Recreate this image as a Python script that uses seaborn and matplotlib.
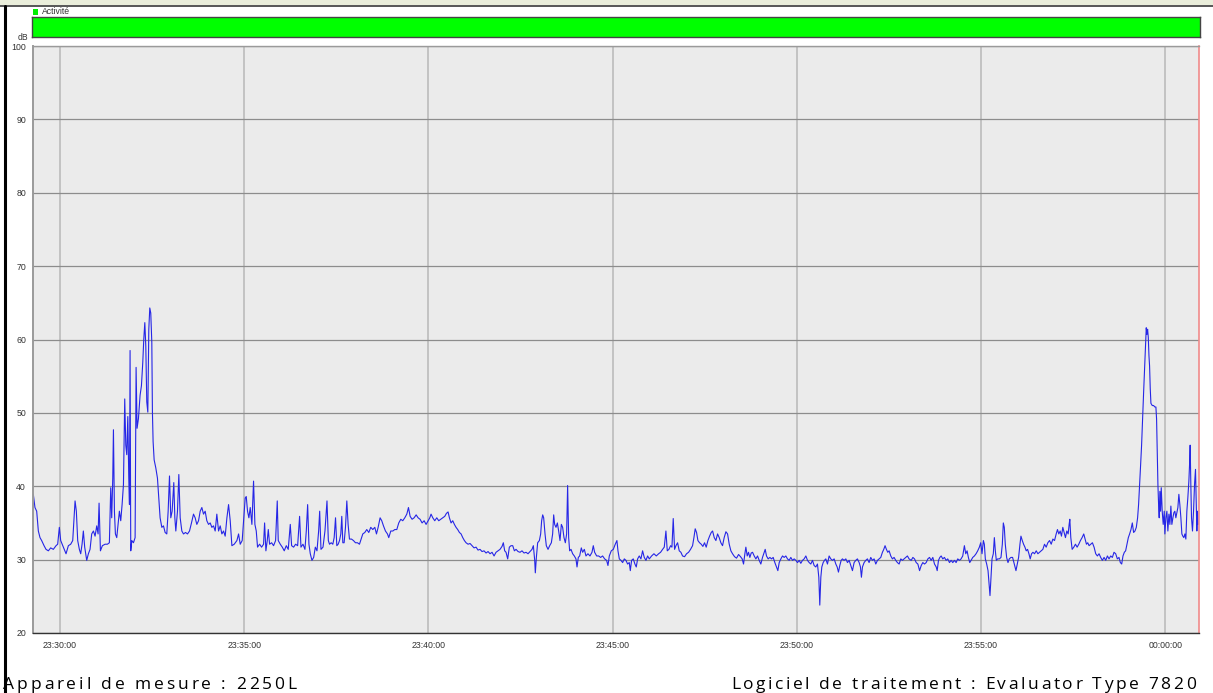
import numpy as np
import pandas as pd
import matplotlib
matplotlib.use("Agg")
import matplotlib.pyplot as plt
from matplotlib.patches import Rectangle
from matplotlib.lines import Line2D
from matplotlib.ticker import FuncFormatter
from matplotlib.font_manager import FontProperties
from matplotlib.textpath import TextToPath
import seaborn as sns

# Sound level (dB) against seconds elapsed since 23:30:00
t_a = [-43.5,-40.8,-38.0,-35.3,-32.6,-29.9,-26.0,-22.8,-19.0,-15.2,-10.9,-6.5,-3.8,-1.1,1.1,5.4,9.8,13.6,17.4,20.7,
       24.5,26.6,28.8,31.5,33.7,35.9,38.0,40.2,43.5,46.2,48.9,51.6,54.4,57.1,59.8,62.0,63.6,65.8,69.0,73.4,
       77.2,80.4,82.6,84.2,85.9,87.0,88.6,90.2,92.4,94.6,96.7,98.9,101.1,103.3,105.4,107.1,108.7,110.4,112.0,113.1,
       114.1,115.2,116.9,119.6,122.3,123.9,125.5,127.7,130.4,132.6,134.8,136.4,138.1,139.7,141.3,143.0,144.6,146.2,147.8,149.5,
       150.5,151.6,153.3,156.0,158.7,160.9,163.0,165.8,168.5,171.2,173.9,176.1,178.3,180.4,182.6,185.3,187.0,188.6,191.3,193.5,
       195.7,198.4,201.1,204.4,207.6,210.9,214.1,217.4,220.1,222.8,225.6,228.3,231.0,233.7,236.4,239.1,241.9,244.6,247.3,250.0,
       252.7,255.4,258.2,260.9,263.6,266.3,269.0,271.8,274.5,277.2,279.9,283.7,288.1,290.8,293.5,296.7,299.0,301.6,303.3,305.4,
       307.6,309.8,312.5,315.2,317.4,319.6,321.7,325.0,328.3,331.5,333.2,335.3,337.5,339.2,341.3,344.6,347.8,351.1,353.8,355.4,
       358.7,362.0,365.2,368.5,371.7,375.0,377.2,380.4,383.7,387.0,390.2,392.4,395.7,398.9,401.1,403.3,405.4,407.6,410.3,413.1,
       415.8,418.5,421.2,422.9,425.0,428.3,431.5,434.8,437.0]
db_a = [38.9,37.1,36.6,33.9,33.0,32.6,31.9,31.4,31.2,31.6,31.4,31.9,32.1,34.4,32.6,31.7,30.8,31.9,32.1,32.6,
        38.0,36.6,32.6,31.4,30.8,32.1,33.9,31.7,29.9,30.8,31.4,33.5,33.9,33.2,34.6,33.5,37.7,31.2,31.9,32.1,
        32.1,32.3,39.8,35.7,41.1,47.7,36.6,33.5,33.0,34.8,36.6,35.3,37.5,40.2,51.9,45.6,44.3,49.5,41.1,37.5,
        58.5,31.2,32.6,32.3,33.0,56.2,47.9,49.2,52.4,53.7,56.9,60.0,62.3,59.1,51.5,50.1,61.4,64.3,63.6,59.6,
        50.1,46.1,43.6,42.5,41.1,38.4,35.7,34.4,34.6,33.7,33.5,36.6,41.4,35.7,36.6,40.5,35.7,33.9,36.6,41.6,
        35.7,33.9,33.5,33.7,33.5,33.9,35.0,36.2,35.7,34.8,35.3,36.6,37.1,36.2,36.6,35.3,34.8,35.0,34.4,34.6,
        33.9,36.2,33.9,34.6,33.5,33.9,33.2,35.7,37.5,35.3,31.9,32.1,32.6,33.5,32.1,32.6,35.3,38.4,38.6,36.6,
        35.7,37.1,34.8,40.7,34.8,33.9,31.7,32.1,31.7,32.1,35.0,31.2,32.6,34.1,32.1,32.3,31.9,32.6,38.0,32.6,
        32.1,31.7,31.2,31.9,31.4,34.8,31.9,31.7,32.1,31.9,35.9,31.7,32.1,31.4,33.9,37.5,32.1,30.8,29.9,30.3,
        31.7,31.2,33.9,36.6,31.4,31.7,33.9,38.0,32.6]

t_b = [438.9,441.6,444.3,446.5,448.7,450.8,453.0,455.2,457.3,458.9,460.6,462.7,464.9,467.1,469.2,471.4,474.7,477.9,481.2,484.4,
       487.7,490.4,493.1,496.4,499.6,502.9,506.1,509.4,512.7,515.4,518.1,521.3,524.0,526.8,530.0,533.3,535.4,538.7,542.0,545.2,
       548.5,551.7,555.0,558.2,561.5,564.8,567.5,570.2,573.4,576.7,580.0,583.2,586.4,589.7,593.0,596.2,599.5,602.2,604.3,607.1,
       610.3,613.6,616.8,620.1,623.3,626.6,629.3,632.0,634.2,636.9,639.6,642.3,645.0,647.7,650.5,653.2,655.9,658.6,661.3,664.6,
       667.8,671.1,674.3,677.6,680.8,684.1,687.3,690.6,693.9,697.1,700.4,703.6,706.9,710.1,713.4,716.6,719.9,722.0,724.2,726.4,
       729.1,731.8,734.5,737.3,740.0,742.7,746.0,749.2,752.4,755.7,759.0,762.2,765.5,768.7,770.9,773.1,774.1,775.8,777.9,780.7,
       782.8,784.4,786.1,787.7,789.9,792.0,794.8,797.5,800.2,802.3,804.0,805.6,807.8,810.0,812.1,814.3,816.5,818.6,820.8,823.0,
       825.1,826.7,828.4,830.0,832.2,834.9,837.6,840.3,842.0,844.1,846.3,849.0,851.2,853.9,856.6,859.8,863.1,866.4,868.5,870.7,
       874.0,877.2,880.5,883.7,887.0,890.2,892.4,894.6,897.8,901.1,904.3,907.0]
db_b = [32.1,32.3,32.1,33.0,35.7,31.9,32.1,32.6,33.5,35.9,32.3,32.3,34.4,38.0,34.8,32.8,32.8,32.6,32.3,32.3,
        32.1,32.8,33.5,33.7,34.1,33.7,34.4,34.1,34.4,33.5,34.4,35.7,35.3,34.6,33.9,33.5,33.0,33.9,33.9,34.1,
        34.1,35.0,35.5,35.3,35.7,36.2,37.1,35.9,35.5,35.7,36.1,35.7,35.5,35.0,35.3,34.8,35.3,35.7,36.2,35.7,
        35.3,35.7,35.3,35.5,35.7,35.9,36.3,36.5,35.7,35.0,35.3,34.8,34.4,34.1,33.7,33.5,33.0,32.6,32.3,32.1,
        32.2,31.9,31.6,31.7,31.3,31.4,31.1,31.2,30.9,31.1,30.8,31.0,30.5,31.0,31.2,31.4,31.8,32.3,31.2,31.0,
        30.1,31.7,31.9,31.9,31.2,31.4,31.1,31.0,31.2,30.9,31.0,30.8,31.1,31.4,31.9,29.9,28.2,30.3,32.3,32.6,
        33.5,35.3,36.1,35.7,33.5,31.9,31.4,31.9,32.3,33.5,36.1,34.8,34.4,35.0,33.9,32.6,34.8,34.4,33.0,32.3,
        33.5,40.1,33.0,31.2,31.4,30.8,30.5,30.1,29.0,30.3,30.5,31.6,31.0,31.4,30.5,30.8,30.5,31.0,31.9,31.0,
        30.5,30.5,30.3,30.5,30.1,29.9,29.2,30.5,31.2,31.4,32.1,32.6]

t_c = [908.7,910.9,913.6,916.3,919.0,921.7,924.4,927.1,928.8,930.9,933.6,936.3,938.5,940.7,943.4,946.1,948.8,951.5,954.3,957.0,
       959.7,963.5,967.3,971.1,974.9,978.1,981.4,984.1,986.8,989.0,991.7,994.4,996.6,998.7,1000.9,1003.1,1005.8,1008.5,1011.2,1013.9,
       1017.2,1020.4,1023.7,1026.9,1030.2,1032.4,1034.5,1036.7,1038.9,1041.6,1044.3,1047.0,1049.7,1052.4,1055.2,1057.9,1060.6,1062.8,1065.5,1068.2,
       1070.9,1073.6,1076.3,1079.0,1081.7,1084.5,1087.2,1089.9,1092.6,1095.3,1098.6,1101.8,1105.1,1108.3,1111.0,1113.2,1115.4,1117.0,1119.2,1121.3,
       1123.5,1125.7,1127.9,1130.6,1133.3,1136.0,1138.7,1141.4,1144.1,1146.9,1148.5,1150.6,1153.3,1156.1,1158.8,1161.5,1164.2,1166.9,1169.1,1171.3,
       1174.0,1176.7,1179.4,1182.1,1184.8,1187.5,1190.2,1193.0,1195.7,1198.4,1201.1,1203.8,1206.5,1209.2,1211.9,1214.7,1217.4,1220.1,1222.8,1225.5,
       1228.2,1230.9,1233.6,1235.8,1237.4,1239.1,1240.7,1242.9,1245.0,1247.2,1249.9,1252.6,1255.3,1258.1,1260.8,1263.5,1265.7,1267.8,1270.0,1272.2,
       1274.3,1277.0,1279.8,1282.5,1285.2,1287.9,1290.6,1293.3,1296.0,1298.7,1301.5,1303.6,1305.2,1306.9,1309.6,1312.3,1315.0,1317.7,1320.4,1323.1,
       1325.9,1328.6,1331.3,1334.0,1336.7,1339.4,1341.6,1343.7,1345.9,1348.1,1350.3,1353.0,1355.7,1358.4,1361.1,1363.8,1366.6,1369.3,1372.0,1374.7,
       1377.4,1380.1,1382.8]
db_c = [31.2,30.1,29.9,29.6,30.1,29.9,29.4,29.6,28.5,29.9,30.1,29.4,29.0,30.1,30.5,30.1,31.2,30.3,29.9,30.5,
        30.1,30.5,30.8,30.5,30.8,31.0,31.4,31.7,33.9,31.2,31.4,31.9,31.7,35.6,31.4,31.9,32.3,31.2,31.0,30.5,
        30.4,30.8,31.0,31.4,31.9,33.0,34.2,33.7,32.6,32.3,32.1,31.8,32.3,31.7,32.6,33.2,33.7,33.9,33.0,32.6,
        33.5,33.0,32.3,31.9,33.0,33.8,33.5,32.1,31.2,30.8,30.4,30.2,30.7,30.4,30.1,29.4,30.8,31.7,30.5,31.0,
        30.3,30.9,31.0,30.5,30.1,30.5,29.9,29.4,30.3,31.0,31.4,30.5,30.1,30.3,30.1,30.3,29.6,29.0,28.5,29.6,
        30.1,30.5,30.3,30.5,30.1,29.9,30.3,29.9,30.1,29.9,29.6,29.9,29.5,29.9,30.1,30.5,29.9,29.6,29.4,29.9,
        29.2,29.0,29.4,27.6,23.8,27.6,29.0,29.6,29.9,30.1,29.4,30.5,30.1,29.9,30.1,29.4,29.0,28.3,29.2,29.9,
        30.1,29.9,30.1,29.6,29.9,29.2,28.5,29.6,29.9,30.1,29.6,29.0,27.6,29.0,29.6,29.9,30.1,29.6,30.3,29.9,
        30.1,29.4,29.9,30.1,30.3,31.0,31.4,31.9,31.4,31.0,31.2,30.5,30.1,30.3,29.9,29.6,29.4,30.1,29.9,30.1,
        30.3,30.5,30.1]

t_d = [1386.3,1389.0,1391.7,1394.4,1397.1,1399.9,1402.6,1405.2,1408.0,1410.7,1413.4,1416.1,1418.8,1421.5,1424.2,1427.0,1428.6,1430.7,1432.9,1435.1,
       1437.7,1440.4,1443.2,1445.8,1448.6,1451.3,1454.0,1456.7,1459.4,1462.1,1464.8,1467.5,1470.2,1472.9,1475.1,1477.3,1479.4,1481.6,1483.8,1486.5,
       1489.2,1491.9,1494.6,1497.3,1499.5,1501.6,1503.8,1505.4,1507.0,1509.2,1511.4,1513.0,1514.6,1516.2,1517.9,1520.0,1521.7,1523.3,1524.9,1527.1,
       1529.8,1532.5,1534.7,1536.3,1537.9,1539.5,1541.7,1543.9,1546.0,1548.7,1551.4,1554.2,1556.9,1559.0,1561.2,1563.4,1565.0,1567.2,1569.3,1571.5,
       1573.6,1575.8,1578.0,1580.1,1582.3,1584.5,1587.2,1589.9,1592.6,1595.3,1598.0,1600.7,1603.4,1606.1,1608.8,1611.6,1614.3,1617.0,1619.7,1622.4,
       1624.5,1626.7,1628.9,1631.0,1633.2,1635.4,1637.5,1639.7,1641.9,1643.5,1644.6,1646.2,1648.4,1651.1,1653.8,1656.5,1659.2,1661.9,1664.6,1667.3,
       1669.5,1671.7,1673.8,1676.0,1678.7,1681.4,1684.1,1686.8,1689.5,1692.2,1694.9,1697.6,1700.4,1703.1,1705.8,1708.5,1711.2,1713.9,1716.6,1719.3,
       1722.0,1724.7,1726.9,1729.1,1731.2,1733.4,1735.5,1737.7,1739.9,1742.0,1744.2,1746.4,1748.5,1750.7,1752.9,1755.0,1756.6,1758.3,1759.9,1761.5,
       1763.1,1764.8,1766.4,1768.0,1769.1,1770.2,1771.3,1772.4,1773.5,1774.5,1775.6,1776.7,1778.9,1781.0,1783.2,1784.8,1785.9,1787.0,1788.1,1789.2,
       1790.2,1791.3,1792.4,1793.5,1795.1,1796.7,1798.4,1799.4,1801.1,1802.7,1804.3,1806.0,1807.6,1809.2,1810.8,1812.5,1814.1,1815.7,1817.3,1819.0,
       1820.6,1822.2,1823.8,1825.5,1827.1,1828.7,1830.3,1832.0,1833.6,1835.2,1836.8,1838.5,1839.6,1840.6,1841.7,1842.8,1844.4,1846.1,1847.7,1849.3,
       1850.4,1851.5,1852.6,1853.7]
db_d = [29.9,30.3,30.1,29.6,29.4,28.5,29.2,29.6,29.4,29.6,30.1,30.3,29.9,30.3,29.4,29.0,28.5,29.9,30.3,30.5,
        30.1,30.3,29.9,30.1,29.6,29.9,29.6,29.9,29.6,30.1,29.9,30.1,30.5,31.9,30.8,31.2,30.3,29.6,29.9,30.3,
        30.5,30.8,31.2,31.7,32.3,30.8,32.6,32.1,30.1,29.4,28.5,26.7,25.1,27.6,30.1,30.8,33.0,31.2,29.9,30.1,
        30.1,30.3,32.1,35.0,34.4,32.1,30.3,29.6,30.1,30.3,30.3,29.4,28.5,29.4,30.3,32.1,33.2,32.6,32.1,31.7,
        31.2,31.4,30.8,30.1,30.8,31.0,30.8,31.2,30.8,31.0,31.2,31.4,32.1,31.7,32.3,32.6,32.1,32.8,32.6,33.5,
        34.1,33.5,33.9,33.2,34.4,33.7,33.0,33.9,33.5,34.8,35.5,33.0,31.4,31.7,32.1,31.7,32.1,32.6,33.0,33.5,
        32.8,32.1,32.3,31.9,32.1,32.3,31.7,30.8,30.5,30.8,30.3,29.9,30.3,29.9,30.5,30.1,30.5,30.3,31.0,30.8,
        30.1,30.3,29.6,29.4,30.5,31.0,31.2,32.1,33.0,33.5,34.1,35.0,33.7,33.9,34.4,35.7,37.5,40.2,42.9,45.6,
        49.2,52.8,56.0,59.1,61.6,60.7,61.4,60.3,57.8,56.4,53.3,51.3,51.0,51.0,50.8,50.8,49.2,44.7,40.2,37.5,
        35.7,39.3,36.6,39.8,36.6,34.8,36.6,33.5,35.7,36.6,33.9,36.2,34.8,37.3,34.8,35.7,36.4,36.6,35.7,36.4,
        37.1,38.9,37.5,35.7,33.5,33.2,33.0,33.5,32.8,36.6,38.4,40.7,42.9,45.6,40.2,35.7,33.9,36.6,40.2,42.3,
        38.4,33.9,36.6,34.8]

y_ticks = [20, 30, 40, 50, 60, 70, 80, 90, 100]
x_ticks = [0, 300, 600, 900, 1200, 1500, 1800]
start_clock = 23 * 3600 + 30 * 60
device_caption = "Appareil de mesure : 2250L"
software_caption = "Logiciel de traitement : Evaluator Type 7820"

df = pd.DataFrame({"t": t_a + t_b + t_c + t_d, "db": db_a + db_b + db_c + db_d})

sns.set_style("white")
small_font = ["Liberation Sans", "DejaVu Sans"]
plt.rcParams["font.family"] = ["Liberation Sans", "DejaVu Sans"]

W, H = 1213, 693
DPI = 100
fig = plt.figure(figsize=(W / DPI, H / DPI), dpi=DPI)
fig.patch.set_facecolor("white")


def fx(px):
    return px / W


def fy(py):
    return 1 - py / H


def spaced_text(x_left_px, baseline_px, text, size, tracking_px, family):
    """Draw text with extra letter spacing, one glyph at a time."""
    prop = FontProperties(family=family, size=size)
    ttp = TextToPath()
    scale = DPI / 72.0
    ref_w = ttp.get_text_width_height_descent("x", prop, ismath=False)[0]
    for i, ch in enumerate(text):
        if ch == " ":
            continue
        pre_w = ttp.get_text_width_height_descent(text[:i] + "x", prop, ismath=False)[0] - ref_w
        x = x_left_px + pre_w * scale + i * tracking_px
        fig.text(fx(x), fy(baseline_px), ch, fontproperties=prop, ha="left",
                 va="baseline", color="black")


# window header strip and frame
fig.patches.append(Rectangle((0, fy(5)), 1, 5 / H, transform=fig.transFigure,
                             facecolor="#eaeedb", edgecolor="none"))
fig.lines.append(Line2D([0, 1], [fy(5.5), fy(5.5)], transform=fig.transFigure,
                        color="#3a3a3a", lw=1.2))
fig.lines.append(Line2D([fx(5), fx(5)], [0, fy(5.5)], transform=fig.transFigure,
                        color="black", lw=2.2))

# activity band
bar = fig.add_axes([fx(32), fy(37), fx(1168), 20 / H])
bar.set_facecolor("#00ff00")
bar.set_xticks([])
bar.set_yticks([])
for s in bar.spines.values():
    s.set_color("#444444")
    s.set_linewidth(1.0)
fig.patches.append(Rectangle((fx(33), fy(15)), 5 / W, 6 / H, transform=fig.transFigure,
                             facecolor="#00ee00", edgecolor="none"))
fig.text(fx(42), fy(12), "Activité", fontsize=6.2, va="center", ha="left",
         family=small_font, color="#333333")
fig.text(fx(23), fy(38), "dB", fontsize=6.2, va="center", ha="center",
         family=small_font, color="#333333")

# main level-vs-time panel
ax = fig.add_axes([fx(33), fy(633), fx(1166), 587 / H])
ax.set_facecolor("#ebebeb")
sns.lineplot(data=df, x="t", y="db", ax=ax, color="#2626e6", linewidth=0.8,
             estimator=None, sort=False)
ax.set_xlim(-44, 1855)
ax.set_ylim(20, 100)
ax.set_yticks(y_ticks)
ax.set_xticks(x_ticks)


def clock(v, pos):
    s = int(round(start_clock + v)) % 86400
    return f"{s // 3600:02d}:{(s % 3600) // 60:02d}:{s % 60:02d}"


ax.xaxis.set_major_formatter(FuncFormatter(clock))
ax.grid(axis="y", color="#8c8c8c", lw=0.9)
ax.grid(axis="x", color="#b8b8b8", lw=1.1)
ax.set_axisbelow(True)
ax.set_xlabel("")
ax.set_ylabel("")
ax.tick_params(axis="both", length=3, width=0.8, color="#666666", labelsize=6.3,
               labelcolor="#333333", pad=2, direction="out")
ax.tick_params(axis="x", pad=3)
for lab in ax.get_xticklabels() + ax.get_yticklabels():
    lab.set_family(small_font)
ax.spines["left"].set_color("#9a9a9a")
ax.spines["left"].set_linewidth(1.4)
ax.spines["top"].set_color("#9a9a9a")
ax.spines["top"].set_linewidth(1.0)
ax.spines["bottom"].set_color("#333333")
ax.spines["bottom"].set_linewidth(1.0)
ax.spines["right"].set_color("#f08a8a")
ax.spines["right"].set_linewidth(1.2)

# footer captions
caption_family = ["Open Sans", "DejaVu Sans"]
spaced_text(3, 689, device_caption, 12.5, 2.9, caption_family)
spaced_text(731, 689, software_caption, 12.5, 2.6, caption_family)

fig.savefig("out.png", dpi=DPI)
